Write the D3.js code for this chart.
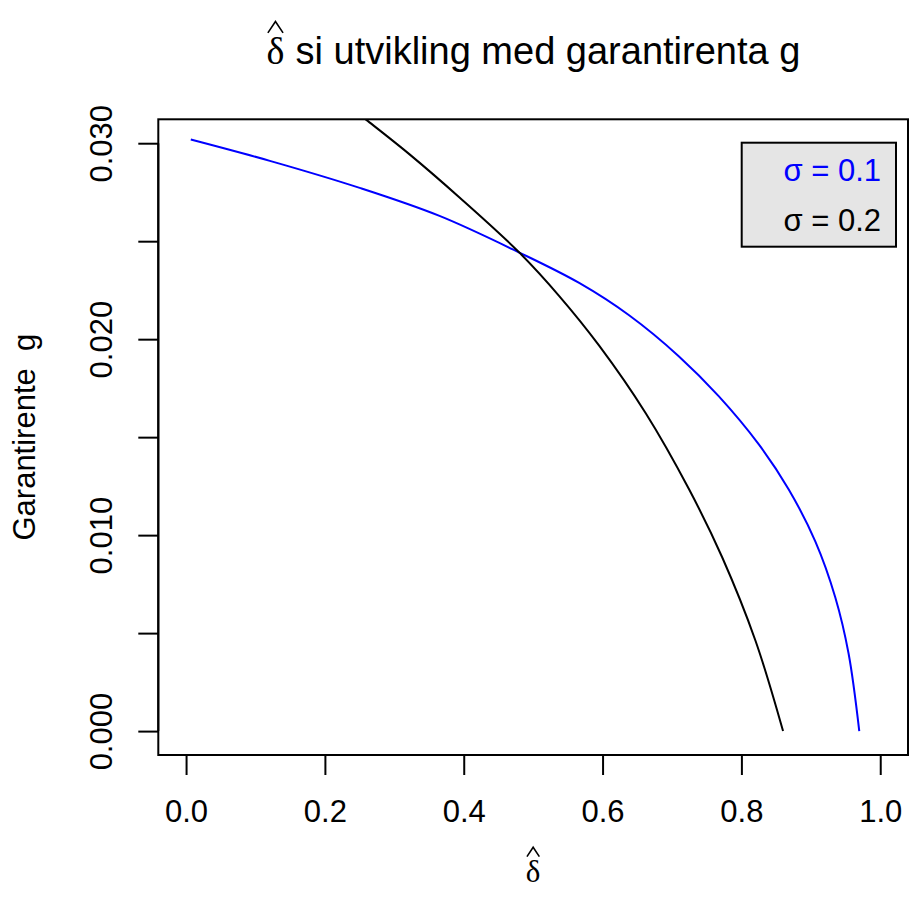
<!DOCTYPE html>
<html>
<head>
<meta charset="utf-8">
<script src="https://cdn.jsdelivr.net/npm/d3@7"></script>
<style>
  html, body { margin: 0; padding: 0; background: #fff; }
  svg { display: block; }
  text { font-family: "Liberation Sans", Arial, sans-serif; fill: #000; }
</style>
</head>
<body>
<svg id="chart" width="909" height="909"></svg>
<script>
// Guaranteed rate g against delta-hat, for two volatilities
const blueDelta = [0.0068, 0.1207, 0.2501, 0.3651, 0.4801, 0.5663, 0.6382, 0.7101, 0.7676, 0.8251, 0.8682, 0.9066, 0.9353, 0.9544, 0.9698];
const blueG     = [0.03019, 0.02910, 0.02772, 0.02629, 0.02442, 0.02287, 0.02122, 0.01912, 0.01708, 0.01463, 0.01233, 0.00967, 0.00682, 0.00396, 0.0];

const blackDelta = [0.2238, 0.2597, 0.3220, 0.3939, 0.4801, 0.5376, 0.5951, 0.6622, 0.7244, 0.7723, 0.8203, 0.8600];
const blackG     = [0.03218, 0.03119, 0.02943, 0.02723, 0.02442, 0.02220, 0.01967, 0.01622, 0.01235, 0.00887, 0.00461, 0.0];

const xTicks = [0.0, 0.2, 0.4, 0.6, 0.8, 1.0];
const xTickLabels = ["0.0", "0.2", "0.4", "0.6", "0.8", "1.0"];
const yTicks = [0.000, 0.005, 0.010, 0.015, 0.020, 0.025, 0.030];
const yTickLabels = ["0.000", "", "0.010", "", "0.020", "", "0.030"];

const legendLabels = ["σ = 0.1", "σ = 0.2"];
const seriesColors = ["#0000ff", "#000000"];

const titleText = "si utvikling med garantirenta g";
const yLabel = "Garantirente  g";

const plot = { left: 158.3, right: 908, top: 119.3, bottom: 755 };
const baseFont = 31;

const svg = d3.select("#chart");

const x = d3.scaleLinear().domain([-0.04, 1.04]).range([plot.left, plot.right]);
const y = d3.scaleLinear().domain([-0.00122, 0.03122]).range([plot.bottom, plot.top]);

svg.append("defs").append("clipPath").attr("id", "plotClip")
  .append("rect")
  .attr("x", plot.left).attr("y", plot.top)
  .attr("width", plot.right - plot.left).attr("height", plot.bottom - plot.top);

// Curves
const line = d3.line()
  .x(d => x(d[0]))
  .y(d => y(d[1]))
  .curve(d3.curveCatmullRom.alpha(0.5));

const series = [
  d3.zip(blueDelta, blueG),
  d3.zip(blackDelta, blackG)
];

svg.append("g").attr("clip-path", "url(#plotClip)")
  .selectAll("path")
  .data(series)
  .join("path")
  .attr("d", line)
  .attr("fill", "none")
  .attr("stroke", (d, i) => seriesColors[i])
  .attr("stroke-width", 2);

// Plot frame
svg.append("rect")
  .attr("x", plot.left).attr("y", plot.top)
  .attr("width", plot.right - plot.left).attr("height", plot.bottom - plot.top)
  .attr("fill", "none").attr("stroke", "#000").attr("stroke-width", 2);

// X axis
const xAxis = d3.axisBottom(x)
  .tickValues(xTicks)
  .tickFormat((d, i) => xTickLabels[i])
  .tickSizeOuter(0)
  .tickSizeInner(20)
  .tickPadding(25);

const gx = svg.append("g")
  .attr("transform", `translate(0,${plot.bottom})`)
  .call(xAxis);
gx.select(".domain")
  .attr("d", `M${x(xTicks[0])},0H${x(xTicks[xTicks.length - 1])}`)
  .attr("stroke-width", 2);
gx.selectAll(".tick line").attr("stroke-width", 2);
gx.selectAll(".tick text")
  .attr("font-size", baseFont)
  .attr("font-family", "Liberation Sans, Arial, sans-serif")
  .attr("dy", "0.71em");

// Y axis
const yAxis = d3.axisLeft(y)
  .tickValues(yTicks)
  .tickFormat((d, i) => yTickLabels[i])
  .tickSizeOuter(0)
  .tickSizeInner(20);

const gy = svg.append("g")
  .attr("transform", `translate(${plot.left},0)`)
  .call(yAxis);
gy.select(".domain")
  .attr("d", `M0,${y(yTicks[0])}V${y(yTicks[yTicks.length - 1])}`)
  .attr("stroke-width", 2);
gy.selectAll(".tick line").attr("stroke-width", 2);
gy.selectAll(".tick text")
  .attr("font-size", baseFont)
  .attr("font-family", "Liberation Sans, Arial, sans-serif")
  .attr("x", null).attr("dy", null)
  .attr("text-anchor", "middle")
  .attr("transform", "translate(-46,0) rotate(-90)");

// Y axis title
svg.append("text")
  .attr("transform", `translate(35,${(plot.top + plot.bottom) / 2}) rotate(-90)`)
  .attr("text-anchor", "middle")
  .attr("font-size", baseFont)
  .style("white-space", "pre")
  .text(yLabel);

// Delta with hat: used for the x axis title and the main title
function deltaHat(g, cx, baseline, size) {
  g.append("text")
    .attr("x", cx).attr("y", baseline)
    .attr("text-anchor", "middle")
    .attr("font-size", size)
    .style("font-family", "'Liberation Serif', 'DejaVu Serif', serif")
    .text("δ");
  const w = size * 0.2, top = baseline - size * 1.12, h = size * 0.3;
  g.append("path")
    .attr("d", `M${cx - w},${top + h}L${cx},${top}L${cx + w},${top + h}`)
    .attr("fill", "none").attr("stroke", "#000").attr("stroke-width", 1.6);
}

const xMid = (plot.left + plot.right) / 2;
deltaHat(svg.append("g"), xMid, 882, baseFont);

// Main title
const titleSize = 38;
const titleG = svg.append("g");
const titleTxt = titleG.append("text")
  .attr("y", 64)
  .attr("font-size", titleSize)
  .text(" " + titleText)
  .style("white-space", "pre");
const tw = titleTxt.node().getComputedTextLength();
const deltaW = titleSize * 0.5;
const startX = xMid - (tw + deltaW) / 2;
deltaHat(titleG, startX + deltaW / 2, 64, titleSize);
titleTxt.attr("x", startX + deltaW);

// Legend
const legend = { left: 741.7, top: 142.7, right: 896, bottom: 246.7 };
svg.append("rect")
  .attr("x", legend.left).attr("y", legend.top)
  .attr("width", legend.right - legend.left).attr("height", legend.bottom - legend.top)
  .attr("fill", "#e5e5e5").attr("stroke", "#000").attr("stroke-width", 2);

svg.append("g").selectAll("text")
  .data(legendLabels)
  .join("text")
  .attr("x", 881)
  .attr("y", (d, i) => 181 + i * 50)
  .attr("text-anchor", "end")
  .attr("font-size", baseFont)
  .style("fill", (d, i) => seriesColors[i])
  .text(d => d);
</script>
</body>
</html>
